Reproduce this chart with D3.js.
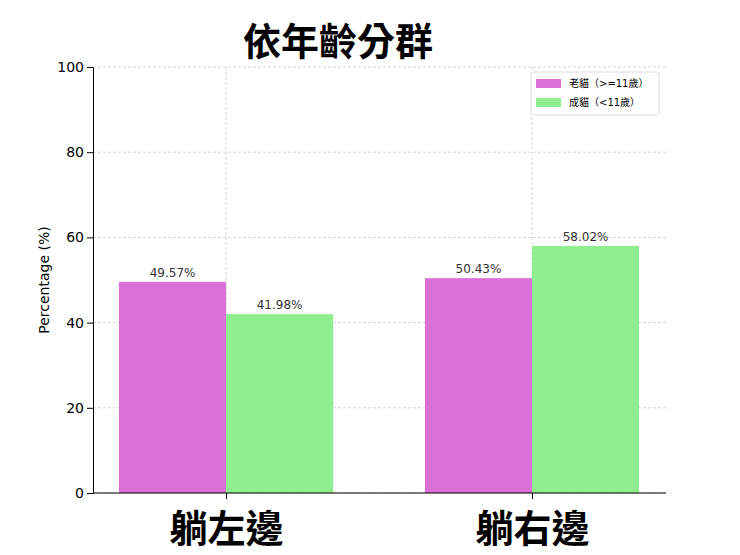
<!DOCTYPE html>
<html><head><meta charset="utf-8">
<script src="https://cdn.jsdelivr.net/npm/d3@7"></script>
<style>body{margin:0;background:#fff}</style>
</head><body><svg id="c" width="740" height="555"></svg>
<script>
var categories = ["躺左邊", "躺右邊"];
var seriesNames = ["老貓（>=11歲）", "成貓（<11歲）"];
var oldCats = [49.57, 50.43];
var adultCats = [41.98, 58.02];
var yTicks = [0, 20, 40, 60, 80, 100];
var colors = ["orchid", "lightgreen"];

var svg = d3.select("#c");
var font = "'DejaVu Sans', 'Noto Sans CJK TC', sans-serif";
var x = d3.scaleLinear().domain([-0.435, 1.438]).range([93, 666]);
var y = d3.scaleLinear().domain([0, 100]).range([493, 67]);
var w = 0.35;

// grid
svg.selectAll(".hg").data(yTicks).enter().append("line")
    .attr("x1", 93).attr("x2", 666).attr("y1", d => y(d)).attr("y2", d => y(d))
    .attr("stroke", "#ccc").attr("stroke-dasharray", "3,2").attr("stroke-width", 0.8);
svg.selectAll(".vg").data(categories).enter().append("line")
    .attr("x1", (d, i) => x(i)).attr("x2", (d, i) => x(i)).attr("y1", 67).attr("y2", 493)
    .attr("stroke", "#ccc").attr("stroke-dasharray", "3,2").attr("stroke-width", 0.8);

[oldCats, adultCats].forEach(function (vals, s) {
    var off = s === 0 ? -w : 0;
    svg.selectAll(".b" + s).data(vals).enter().append("rect")
        .attr("x", (d, i) => x(i + off)).attr("width", x(w) - x(0))
        .attr("y", d => y(d)).attr("height", d => y(0) - y(d))
        .attr("fill", colors[s]);
    svg.selectAll(".t" + s).data(vals).enter().append("text")
        .attr("x", (d, i) => x(i + off + w / 2)).attr("y", d => y(d) - 5)
        .attr("text-anchor", "middle").style("font-family", font).style("font-size", "12px")
        .attr("fill", "#333").text(d => d.toFixed(2) + "%");
});

// axes
var yAxis = svg.append("g").attr("transform", "translate(93,0)")
    .call(d3.axisLeft(y).tickValues(yTicks).tickSizeOuter(0));
yAxis.selectAll("text").style("font-family", font).style("font-size", "14px").attr("fill", "#000");
var xAxis = svg.append("g").attr("transform", "translate(0,493)")
    .call(d3.axisBottom(x).tickValues([0, 1]).tickFormat((d, i) => categories[i]).tickSizeOuter(0));
xAxis.select(".domain").attr("d", "M93,0H666");
xAxis.selectAll("text").style("font-family", font).style("font-size", "38px")
    .style("font-weight", "bold").attr("fill", "#000").attr("dy", "1.05em");

svg.append("text").attr("transform", "translate(49,280) rotate(-90)")
    .attr("text-anchor", "middle").style("font-family", font).style("font-size", "14px")
    .text("Percentage (%)");
svg.append("text").attr("x", 338).attr("y", 55).attr("text-anchor", "middle")
    .style("font-family", font).style("font-size", "38px").style("font-weight", "bold")
    .text("依年齡分群");

// legend
var lg = svg.append("g").attr("transform", "translate(531,72)");
lg.append("rect").attr("width", 128).attr("height", 43).attr("rx", 2)
    .attr("fill", "#fff").attr("stroke", "#ddd");
seriesNames.forEach(function (n, i) {
    lg.append("rect").attr("x", 5).attr("y", 7 + i * 19).attr("width", 25).attr("height", 9).attr("fill", colors[i]);
    lg.append("text").attr("x", 38).attr("y", 15 + i * 19).style("font-family", font)
        .style("font-size", "10px").text(n);
});
</script></body></html>
